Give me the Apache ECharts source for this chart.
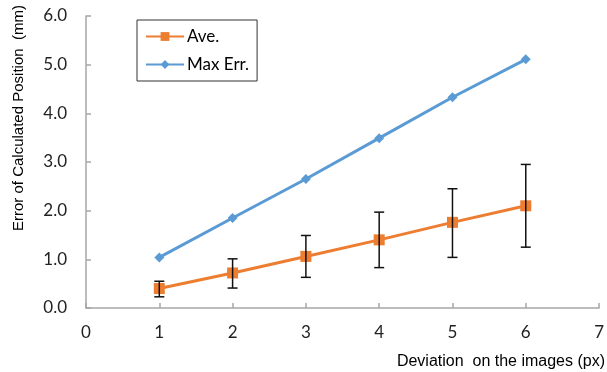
<!DOCTYPE html>
<html>
<head>
<meta charset="utf-8">
<script src="https://cdn.jsdelivr.net/npm/echarts@6/dist/echarts.min.js"></script>
<style>html,body{margin:0;padding:0;background:#fff;}#c{width:607px;height:372px;}</style>
</head>
<body>
<div id="c"></div>
<script>
var deviations = [1, 2, 3, 4, 5, 6];
var aveValues = [0.40, 0.72, 1.06, 1.40, 1.76, 2.10];
var aveLow = [0.23, 0.41, 0.63, 0.83, 1.04, 1.25];
var aveHigh = [0.55, 1.01, 1.49, 1.97, 2.45, 2.95];
var maxErrValues = [1.04, 1.85, 2.65, 3.49, 4.33, 5.11];
var xTicks = [0, 1, 2, 3, 4, 5, 6, 7];
var yTicks = [0, 1, 2, 3, 4, 5, 6];

var chart = echarts.init(document.getElementById('c'));
var tickFont = 'Lato, "Open Sans", sans-serif';
var axisNameFont = '"Liberation Sans", Arial, sans-serif';
var option = {
  animation: false,
  grid: {left: 86, right: 6, top: 16, bottom: 64},
  legend: {
    data: ['Ave.', 'Max Err.'],
    orient: 'vertical',
    left: 137, top: 20,
    padding: [8, 8, 8, 8],
    itemGap: 11,
    itemWidth: 38, itemHeight: 11,
    borderColor: '#333', borderWidth: 1,
    textStyle: {fontFamily: tickFont, fontSize: 17, color: '#000', padding: [0, 0, 0, -2]}
  },
  xAxis: {
    type: 'value', min: xTicks[0], max: xTicks[xTicks.length - 1], interval: 1,
    axisLine: {lineStyle: {color: '#a6a6a6', width: 1.5}},
    axisTick: {show: true, inside: true, length: 5, lineStyle: {color: '#a6a6a6', width: 1.5}},
    axisLabel: {fontFamily: tickFont, fontSize: 17, color: '#222', margin: 16},
    splitLine: {show: false}
  },
  yAxis: {
    type: 'value', min: yTicks[0], max: yTicks[yTicks.length - 1], interval: 1,
    axisLine: {show: true, lineStyle: {color: '#a6a6a6', width: 1.5}},
    axisTick: {show: true, inside: true, length: 5, lineStyle: {color: '#a6a6a6', width: 1.5}},
    axisLabel: {fontFamily: tickFont, fontSize: 17, color: '#222', margin: 19,
      formatter: function (v) { return v.toFixed(1); }},
    splitLine: {show: false}
  },
  graphic: [
    {type: 'text', rotation: Math.PI / 2, x: 11, y: 231,
     style: {text: 'Error of Calculated Position  (mm)', font: '15px ' + axisNameFont, fill: '#000'}},
    {type: 'text', right: 2, top: 354,
     style: {text: 'Deviation  on the images (px)', font: '16px ' + axisNameFont, fill: '#000'}}
  ],
  series: [
    {
      name: 'Max Err.', type: 'line',
      data: deviations.map(function (d, i) { return [d, maxErrValues[i]]; }),
      symbol: 'diamond', symbolSize: 10,
      lineStyle: {color: '#5B9BD5', width: 3},
      itemStyle: {color: '#5B9BD5'}, z: 3
    },
    {
      name: 'Ave.', type: 'line',
      data: deviations.map(function (d, i) { return [d, aveValues[i]]; }),
      symbol: 'rect', symbolSize: 11,
      lineStyle: {color: '#ED7D31', width: 3},
      itemStyle: {color: '#ED7D31'}, z: 3
    },
    {
      name: 'errbar', type: 'custom', z: 4,
      data: deviations.map(function (d, i) { return [d, aveLow[i], aveHigh[i]]; }),
      encode: {x: 0, y: [1, 2]},
      renderItem: function (params, api) {
        var x = api.value(0);
        var lo = api.coord([x, api.value(1)]);
        var hi = api.coord([x, api.value(2)]);
        var hw = 5;
        var st = {stroke: '#111', lineWidth: 1.5};
        return {type: 'group', children: [
          {type: 'line', shape: {x1: lo[0], y1: lo[1], x2: hi[0], y2: hi[1]}, style: st},
          {type: 'line', shape: {x1: lo[0] - hw, y1: lo[1], x2: lo[0] + hw, y2: lo[1]}, style: st},
          {type: 'line', shape: {x1: hi[0] - hw, y1: hi[1], x2: hi[0] + hw, y2: hi[1]}, style: st}
        ]};
      }
    }
  ]
};
chart.setOption(option);
</script>
</body>
</html>
